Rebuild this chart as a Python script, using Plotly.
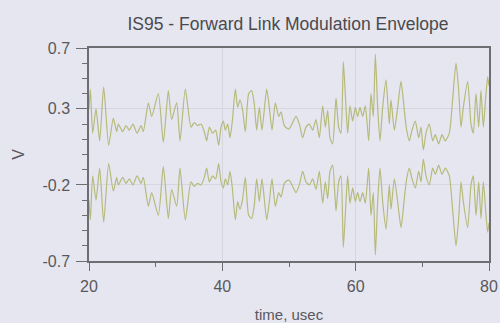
import plotly.graph_objects as go

# time (usec) of envelope extrema
time_us = [20.0, 20.2, 20.55, 21.05, 21.6, 22.2, 22.95, 23.65, 24.15, 24.4, 25.05, 25.55, 26.05, 26.6,
           27.2, 27.8, 28.15, 28.9, 29.4, 30.4, 31.15, 31.9, 32.4, 33.15, 33.65, 34.45, 35.3, 35.8,
           36.3, 36.8, 37.3, 37.65, 38.05, 38.55, 39.0, 39.45, 39.8, 40.15, 40.45, 40.8, 41.15, 41.5,
           41.95, 42.3, 42.65, 43.05, 43.45, 43.95, 44.4, 44.8, 45.15, 45.55, 45.95, 46.65, 47.05,
           47.45, 47.95, 48.45, 48.8, 49.3, 49.8, 50.05, 50.55, 51.05, 51.55, 52.05, 52.55, 53.05,
           53.55, 54.05, 54.55, 55.05, 55.45, 55.8, 56.15, 56.55, 57.05, 57.45, 57.8, 58.15, 58.55,
           58.8, 59.15, 59.55, 59.95, 60.3, 60.65, 61.05, 61.45, 61.95, 62.3, 62.65, 62.95, 63.3,
           63.65, 64.05, 64.55, 65.05, 65.3, 65.8, 66.3, 66.8, 67.3, 67.65, 68.05, 68.45, 68.95,
           69.45, 69.8, 70.15, 70.55, 71.05, 71.55, 71.95, 72.45, 72.95, 73.45, 74.05, 74.45, 75.05,
           75.45, 75.8, 76.15, 76.8, 77.3, 77.65, 78.05, 78.45, 78.8, 79.15, 79.55, 79.8, 80.0]

# upper envelope (V)
env_upper = [0.30, 0.43, 0.14, 0.30, 0.09, 0.445, 0.06, 0.24, 0.15, 0.20, 0.15, 0.19, 0.16, 0.20,
             0.14, 0.19, 0.15, 0.34, 0.25, 0.40, 0.08, 0.42, 0.23, 0.34, 0.09, 0.43, 0.18, 0.21,
             0.19, 0.20, 0.15, 0.09, 0.18, 0.14, 0.16, 0.06, 0.18, 0.22, 0.16, 0.20, 0.11, 0.22,
             0.43, 0.31, 0.36, 0.29, 0.15, 0.40, 0.42, 0.33, 0.16, 0.31, 0.16, 0.43, 0.31,
             0.16, 0.34, 0.25, 0.28, 0.19, 0.17, 0.17, 0.21, 0.25, 0.20, 0.11, 0.18, 0.20,
             0.16, 0.23, 0.11, 0.32, 0.18, 0.29, 0.11, 0.07, 0.37, 0.18, 0.14, 0.61, 0.31,
             0.14, 0.32, 0.22, 0.31, 0.25, 0.31, 0.25, 0.32, 0.09, 0.40, 0.25, 0.66, 0.31,
             0.09, 0.31, 0.49, 0.20, 0.36, 0.16, 0.31, 0.48, 0.29, 0.16, 0.09, 0.16, 0.22,
             0.11, 0.18, 0.03, 0.14, 0.20, 0.09, 0.13, 0.07, 0.13, 0.09, 0.14, 0.31, 0.60,
             0.42, 0.18, 0.31, 0.48, 0.20, 0.14, 0.40, 0.18, 0.42, 0.18, 0.40, 0.51, 0.45]

env_lower = [-v for v in env_upper]

x_ticks = [20, 40, 60, 80]
x_minor_ticks = [30, 50, 70]
y_ticks = [0.7, 0.3, -0.2, -0.7]
y_tick_text = ["0.7", "0.3", "-0.2", "-0.7"]

line_color = "#b6ba7a"
axis_color = "#6e6e72"
text_color = "#58585c"
bg = "#e6e6f0"
font_family = "Liberation Sans, Arial, sans-serif"

fig = go.Figure()
for y in (env_upper, env_lower):
    fig.add_trace(go.Scatter(x=time_us, y=y, mode="lines",
                             line=dict(color=line_color, width=1.2, shape="spline", smoothing=0.6),
                             showlegend=False, hoverinfo="skip"))

fig.update_layout(
    width=500, height=323,
    paper_bgcolor=bg, plot_bgcolor=bg,
    margin=dict(l=89, r=11, t=48, b=62, autoexpand=False),
    font=dict(family=font_family, size=14, color=text_color),
    title=dict(text="IS95 - Forward Link Modulation Envelope", x=0.576, xanchor="center",
               y=0.925, yanchor="middle", font=dict(size=17.5, color="#4a4a4e")),
)
fig.update_xaxes(range=[20, 80], tickvals=x_ticks, ticks="outside", ticklen=8, tickwidth=1.2,
                 tickcolor=axis_color, showline=True, linecolor=axis_color, linewidth=1.5, mirror=True,
                 showgrid=True, gridcolor="#d6d6e0", gridwidth=1, zeroline=False, automargin=False,
                 minor=dict(tickvals=x_minor_ticks, ticks="outside", ticklen=4, tickcolor=axis_color,
                            showgrid=False),
                 tickfont=dict(size=16), ticklabelstandoff=2,
                 title=dict(text="time, usec", font=dict(size=15), standoff=22))
fig.update_yaxes(range=[-0.7, 0.7], tickvals=y_ticks, ticktext=y_tick_text, ticks="outside", ticklen=11,
                 tickwidth=1.2, tickcolor=axis_color, showline=True, linecolor=axis_color, linewidth=1.5,
                 mirror=True, showgrid=True, gridcolor="#d6d6e0", gridwidth=1, zeroline=False,
                 automargin=False,
                 minor=dict(dtick=0.1, tick0=0.0, ticks="outside", ticklen=5, tickcolor=axis_color,
                            showgrid=False),
                 tickfont=dict(size=16), ticklabelstandoff=3,
                 title=dict(text="V", font=dict(size=16), standoff=14))

fig.write_html("out.html")
